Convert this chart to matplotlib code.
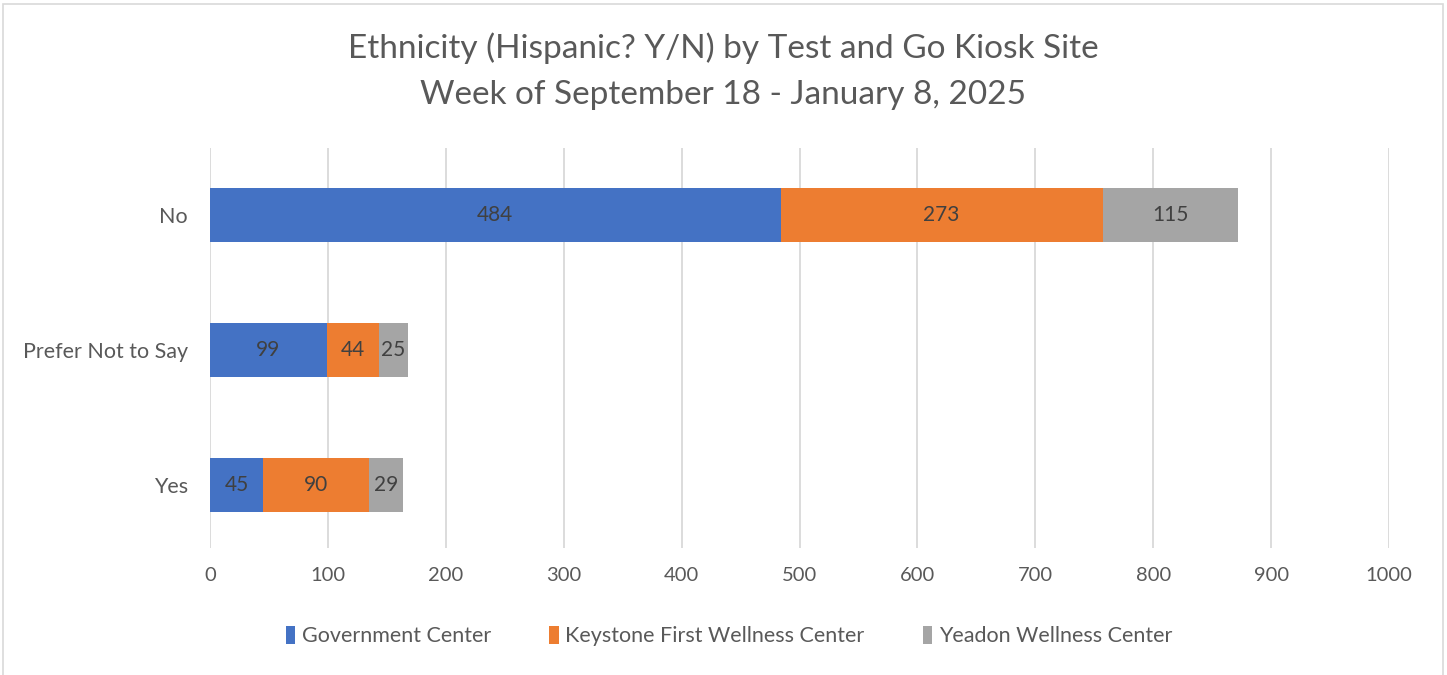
import numpy as np
import matplotlib.pyplot as plt
from matplotlib.patches import Rectangle

# данные
categories = ["Yes", "Prefer Not to Say", "No"]
series_names = ["Government Center", "Keystone First Wellness Center", "Yeadon Wellness Center"]
government = [45, 99, 484]
keystone = [90, 44, 273]
yeadon = [29, 25, 115]
colors = ["#4472C4", "#ED7D31", "#A5A5A5"]
xticks = [0, 100, 200, 300, 400, 500, 600, 700, 800, 900, 1000]

plt.rcParams['font.family'] = ['Lato', 'DejaVu Sans']
text_col = "#595959"

fig = plt.figure(figsize=(14.47, 6.75), dpi=100)
ax = fig.add_axes([210 / 1447, 1 - 548 / 675, (1389 - 210) / 1447, 400 / 675])

# рамка вокруг графика
fig.patches.append(Rectangle((3 / 1447, -0.01), 1440 / 1447, 1 - 4 / 675 + 0.01,
                             transform=fig.transFigure, fill=False,
                             edgecolor="#d9d9d9", linewidth=1.2))

y = np.arange(len(categories))
left = np.zeros(len(categories))
for vals, name, c in zip([government, keystone, yeadon], series_names, colors):
    bars = ax.barh(y, vals, left=left, height=0.4, color=c, label=name, zorder=3)
    ax.bar_label(bars, labels=[str(v) for v in vals], label_type="center",
                 color="#404040", fontsize=15)
    left = left + np.array(vals)

ax.set_xlim(0, 1000)
ax.set_ylim(-0.47, 2.5)
ax.set_xticks(xticks)
ax.set_yticks(y)
ax.set_yticklabels(categories)
ax.grid(axis="x", color="#d9d9d9", linewidth=1.3, zorder=0)
for s in ax.spines.values():
    s.set_visible(False)
ax.tick_params(length=0, colors=text_col)
ax.tick_params(axis="x", pad=14, labelsize=14.5)
ax.tick_params(axis="y", pad=16, labelsize=15.5)

fig.text(723 / 1447, 1 - 48 / 675, "Ethnicity (Hispanic? Y/N) by Test and Go Kiosk Site",
         ha="center", va="center", fontsize=24, color=text_col)
fig.text(723 / 1447, 1 - 95 / 675, "Week of September 18 - January 8, 2025",
         ha="center", va="center", fontsize=24, color=text_col)

fig.legend(loc="center", bbox_to_anchor=(729 / 1447, 1 - 636 / 675),
           ncol=3, frameon=False, fontsize=15.5, labelcolor=text_col,
           handlelength=0.45, handleheight=0.9, handletextpad=0.3, columnspacing=2.7)

plt.savefig("out.png", dpi=100)
